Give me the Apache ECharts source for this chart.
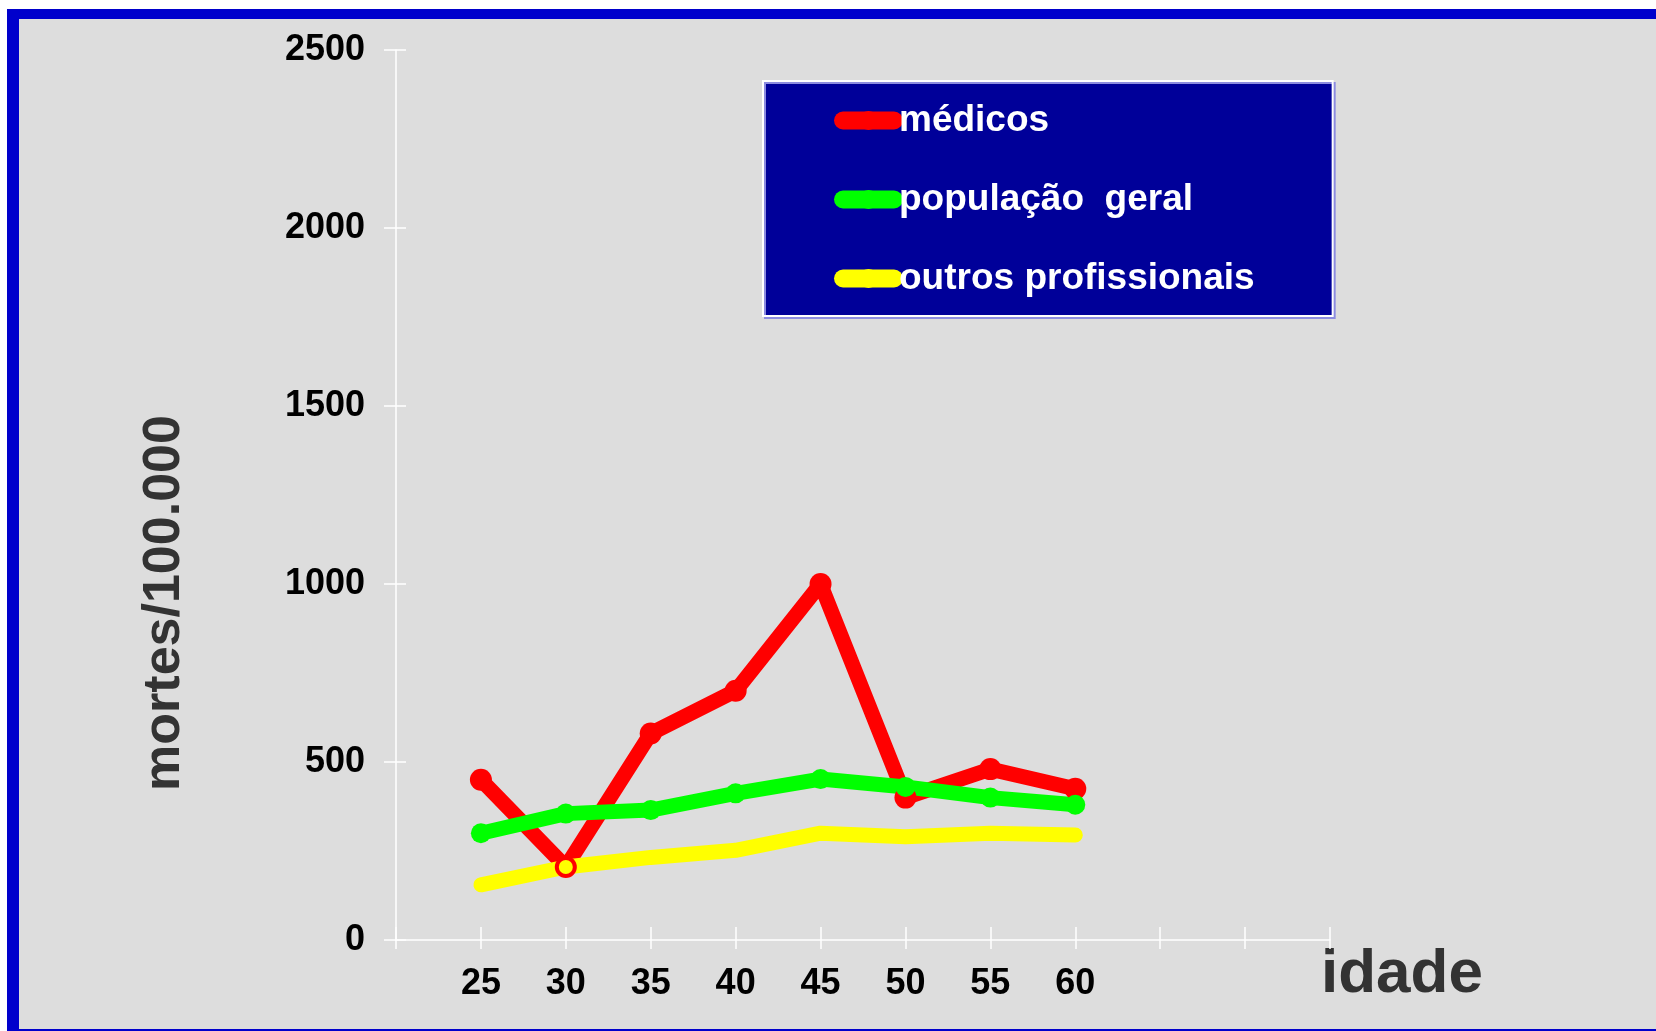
<!DOCTYPE html>
<html><head><meta charset="utf-8">
<script src="https://cdn.jsdelivr.net/npm/echarts@6/dist/echarts.min.js"></script>
<style>
html,body{margin:0;padding:0;background:#ffffff;overflow:hidden;}
#frame{position:absolute;left:7px;top:9px;width:1649px;height:1022px;background:#dddddd;box-sizing:border-box;border-left:12px solid #0000cc;border-top:10px solid #0000cc;border-bottom:2px solid #0000cc;}
#chart{position:absolute;left:0;top:0;width:1656px;height:1031px;}
</style></head><body>
<div id="frame"></div><div id="chart"></div>
<script>
const ages = [25, 30, 35, 40, 45, 50, 55, 60];
const medicos = [450, 205, 580, 700, 1000, 400, 480, 425];
const populacaoGeral = [300, 355, 365, 412, 452, 430, 400, 380];
const outrosProfissionais = [155, 205, 232, 252, 300, 290, 300, 295];
const seriesNames = ['médicos', 'população  geral', 'outros profissionais'];
const xAxisTitle = 'idade';
const yAxisTitle = 'mortes/100.000';

const FONT = '"Liberation Sans", Arial, sans-serif';
const pairs = vals => ages.map((a, i) => [a, vals[i]]);
const labelSet = new Set(ages.map(String));

const chart = echarts.init(document.getElementById('chart'), null, {renderer: 'canvas'});

const lineSeries = (name, vals, color, symSize) => ({
  name: name,
  type: 'line',
  data: pairs(vals),
  xAxisIndex: 0, yAxisIndex: 0,
  symbol: 'circle',
  symbolSize: symSize,
  showSymbol: true,
  itemStyle: {color: color},
  lineStyle: {color: color, width: 15, cap: 'round', join: 'round'},
  emphasis: {disabled: true},
  animation: false
});

chart.setOption({
  animation: false,
  backgroundColor: 'transparent',
  grid: {left: 396, right: 326, top: 50, bottom: 91, containLabel: false},
  legend: {
    orient: 'vertical',
    left: 763, top: 81,
    padding: [21, 78, 19, 71],
    backgroundColor: '#000099',
    borderColor: '#ffffff',
    borderWidth: 2,
    shadowColor: '#8c8ce0', shadowBlur: 0, shadowOffsetX: 2, shadowOffsetY: 2,
    itemWidth: 51, itemHeight: 24, itemGap: 42,
    selectedMode: false,
    lineStyle: {width: 18, cap: 'round'},
    textStyle: {color: '#ffffff', fontSize: 37, fontWeight: 'bold', fontFamily: FONT},
    data: seriesNames
  },
  xAxis: [{
    type: 'value', min: 20, max: 75, interval: 5,
    position: 'bottom',
    name: xAxisTitle,
    nameLocation: 'end',
    nameGap: -9,
    nameTextStyle: {fontSize: 62, fontWeight: 'bold', color: '#333333', fontFamily: FONT, align: 'left', verticalAlign: 'top', padding: [4, 0, 0, 0]},
    axisLine: {show: true, lineStyle: {color: '#ffffff', width: 1.5}},
    axisTick: {show: true, inside: false, length: 9, lineStyle: {color: '#ffffff', width: 1.5}},
    axisLabel: {
      show: true, margin: 26, fontSize: 36, fontWeight: 'bold', color: '#000000', fontFamily: FONT,
      formatter: v => labelSet.has(String(v)) ? String(v) : ''
    },
    splitLine: {show: false}
  }, {
    type: 'value', min: 20, max: 75, interval: 5,
    position: 'bottom',
    axisLine: {show: false},
    axisTick: {show: true, inside: true, length: 13, lineStyle: {color: '#ffffff', width: 1.5}},
    axisLabel: {show: false},
    splitLine: {show: false}
  }],
  yAxis: [{
    type: 'value', min: 0, max: 2500, interval: 500,
    position: 'left',
    name: yAxisTitle,
    nameLocation: 'middle',
    nameRotate: 90,
    nameGap: 205,
    nameTextStyle: {fontSize: 52, fontWeight: 'bold', color: '#333333', fontFamily: FONT, padding: [0, 216, 0, 0]},
    axisLine: {show: true, lineStyle: {color: '#ffffff', width: 1.5}},
    axisTick: {show: true, inside: false, length: 12, lineStyle: {color: '#ffffff', width: 1.5}},
    axisLabel: {show: true, margin: 31, fontSize: 36, fontWeight: 'bold', color: '#000000', fontFamily: FONT,
      formatter: v => String(v)},
    splitLine: {show: false}
  }, {
    type: 'value', min: 0, max: 2500, interval: 500,
    position: 'left',
    axisLine: {show: false},
    axisTick: {show: true, inside: true, length: 10, lineStyle: {color: '#ffffff', width: 1.5}},
    axisLabel: {show: false},
    splitLine: {show: false}
  }],
  series: [
    lineSeries(seriesNames[0], medicos, '#ff0000', 22),
    lineSeries(seriesNames[1], populacaoGeral, '#00ff00', 20),
    lineSeries(seriesNames[2], outrosProfissionais, '#ffff00', 14)
  ]
});
</script>
</body></html>
